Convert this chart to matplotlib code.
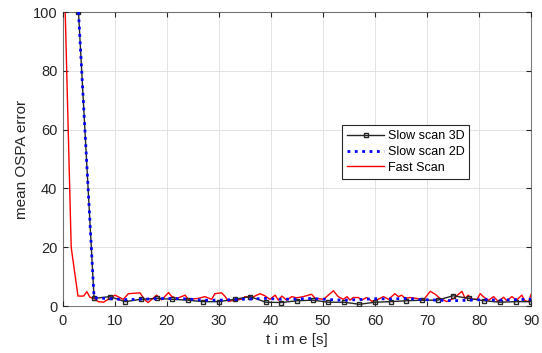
import matplotlib
matplotlib.use("Agg")
import matplotlib.pyplot as plt

plt.rcParams['font.family'] = ['Liberation Sans', 'DejaVu Sans']

slow_time = [3, 6, 9, 12, 15, 18, 21, 24, 27, 30, 33, 36, 39, 42, 45, 48, 51, 54, 57, 60,
             63, 66, 69, 72, 75, 78, 81, 84, 87, 90]
slow3d_err = [100, 2.6, 3.2, 1.5, 2.3, 2.6, 2.3, 2.0, 1.5, 1.5, 2.3, 3.2, 1.3, 1.2, 1.8, 2.0,
              1.3, 1.3, 0.6, 1.3, 1.5, 1.8, 2.0, 2.0, 3.5, 2.6, 1.8, 1.3, 1.5, 1.5]
slow2d_err = [100, 2.8, 2.5, 2.2, 2.3, 2.5, 2.6, 2.4, 2.0, 2.0, 2.2, 2.4, 2.6, 2.3, 2.4, 2.6,
              2.2, 2.0, 2.2, 2.5, 2.4, 2.6, 2.2, 2.0, 1.8, 2.0, 2.2, 2.0, 2.2, 2.3]

fast_time = [0.45, 1.6, 2.9, 4.0, 4.6, 5.2, 6.2, 6.8, 7.8, 9.0, 10.0, 11.6, 12.6, 14.8, 15.8,
             16.4, 18.0, 19.0, 20.3, 20.9, 21.9, 23.5, 24.1, 26.0, 27.3, 28.6, 29.2, 30.5,
             31.2, 31.8, 33.1, 34.4, 35.0, 36.3, 37.9, 38.8, 39.8, 40.8, 41.4, 42.1, 43.0,
             44.0, 44.9, 46.2, 47.8, 48.5, 50.1, 52.0, 52.9, 53.9, 54.6, 55.2, 55.8, 56.8,
             57.4, 58.4, 59.4, 60.6, 61.6, 62.6, 63.8, 64.5, 65.1, 65.8, 66.7, 68.0, 69.3,
             70.6, 71.5, 72.5, 73.8, 75.1, 76.7, 77.3, 77.9, 78.6, 79.6, 80.2, 80.8, 81.8,
             82.8, 83.7, 84.7, 85.3, 86.3, 87.2, 88.2, 88.8, 89.5, 90.0]
fast_err = [100, 20, 3.4, 3.4, 4.9, 3.0, 2.4, 1.5, 1.3, 2.6, 3.7, 2.3, 4.2, 4.5, 2.0,
            1.2, 3.7, 2.1, 4.6, 3.3, 2.6, 3.7, 2.3, 2.6, 3.2, 2.3, 4.2, 4.5,
            3.2, 1.6, 2.0, 2.3, 3.2, 2.9, 4.2, 3.5, 2.3, 3.7, 2.0, 3.4, 2.0,
            3.2, 2.8, 3.2, 4.0, 2.6, 2.3, 5.2, 3.2, 2.3, 3.2, 2.0, 2.9, 2.9,
            2.0, 2.9, 1.6, 2.3, 3.2, 2.3, 4.2, 3.2, 3.7, 2.6, 2.9, 2.6, 2.0,
            5.0, 4.1, 2.6, 1.5, 2.6, 5.0, 2.6, 3.7, 2.3, 2.3, 4.2, 3.2, 2.0,
            3.2, 1.5, 3.0, 1.8, 3.2, 2.0, 3.7, 1.8, 1.5, 4.0]

xticks = [0, 10, 20, 30, 40, 50, 60, 70, 80, 90]
yticks = [0, 20, 40, 60, 80, 100]

fig = plt.figure(figsize=(5.42, 3.53), dpi=100)
ax = fig.add_axes([0.116, 0.133, 0.864, 0.833])

ax.plot(slow_time, slow3d_err, color='#262626', lw=1.0, marker='s', ms=3.5,
        mfc='none', mec='#262626', mew=1.0, label='Slow scan 3D', zorder=3)
ax.plot(slow_time, slow2d_err, color='#0000ff', lw=2.0, ls=':', label='Slow scan 2D', zorder=4)
ax.plot(fast_time, fast_err, color='#ff0000', lw=1.0, label='Fast Scan', zorder=2)

ax.set_xlim(0, 90)
ax.set_ylim(0, 100)
ax.set_xticks(xticks)
ax.set_yticks(yticks)
ax.grid(True, color='#e3e3e3', lw=0.7)
ax.set_axisbelow(True)
ax.tick_params(direction='in', length=3.5, colors='#262626', labelsize=10.5,
               top=True, right=True, width=0.8)
ax.tick_params(axis='x', pad=6)
ax.tick_params(axis='y', pad=4)
for s in ax.spines.values():
    s.set_color('#262626')
    s.set_linewidth(0.8)
    s.set_alpha(0.6)

ax.set_xlabel('t i m e [s]', fontsize=11, color='#262626', labelpad=3)
ax.set_ylabel('mean OSPA error', fontsize=11, color='#262626', labelpad=3)

leg = ax.legend(loc='upper left', bbox_to_anchor=(0.596, 0.615), fontsize=9,
                frameon=True, fancybox=False, edgecolor='#262626', handlelength=3.0,
                handletextpad=0.25, borderpad=0.4, labelspacing=0.3, borderaxespad=0)
leg.get_frame().set_linewidth(0.8)
leg.get_frame().set_alpha(1)

fig.savefig('out.png', dpi=100)
